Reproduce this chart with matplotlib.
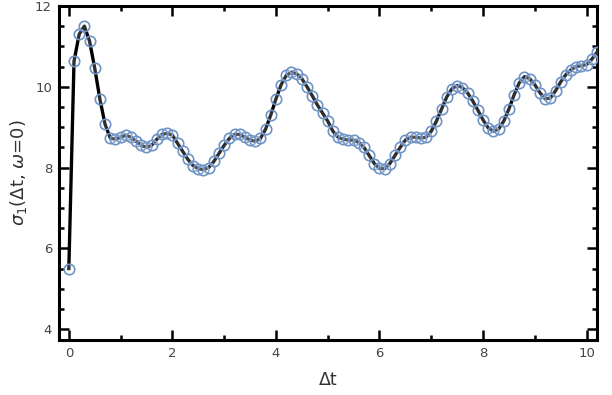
import numpy as np
import matplotlib
matplotlib.use("Agg")
import matplotlib.pyplot as plt
from matplotlib.ticker import MultipleLocator

# data: sigma_1 vs delta t (step 0.1)
dt = [round(0.1 * i, 1) for i in range(103)]
sigma = [5.50, 10.63, 11.30, 11.50, 11.13, 10.46, 9.69, 9.07, 8.73, 8.70,
         8.75, 8.80, 8.75, 8.65, 8.55, 8.50, 8.55, 8.70, 8.82, 8.85,
         8.80, 8.60, 8.40, 8.20, 8.05, 7.97, 7.95, 8.00, 8.15, 8.35,
         8.55, 8.72, 8.82, 8.82, 8.75, 8.68, 8.65, 8.72, 8.95, 9.30,
         9.70, 10.05, 10.28, 10.36, 10.32, 10.20, 10.00, 9.78, 9.55, 9.35,
         9.15, 8.90, 8.75, 8.70, 8.68, 8.68, 8.62, 8.50, 8.30, 8.10,
         7.98, 7.97, 8.10, 8.30, 8.50, 8.68, 8.75, 8.75, 8.73, 8.75,
         8.90, 9.15, 9.45, 9.75, 9.95, 10.03, 9.98, 9.85, 9.65, 9.42,
         9.18, 8.98, 8.90, 8.95, 9.15, 9.45, 9.80, 10.10, 10.25, 10.20,
         10.05, 9.85, 9.70, 9.72, 9.90, 10.12, 10.30, 10.42, 10.50, 10.52,
         10.55, 10.68, 10.85]

x_ticks = [0, 2, 4, 6, 8, 10]
y_ticks = [4, 6, 8, 10, 12]

fig = plt.figure(figsize=(6.12, 3.95), dpi=100)
ax = fig.add_axes([0.0964, 0.139, 0.879, 0.846])

ax.plot(dt, sigma, color='black', lw=2.4, zorder=2)
ax.plot(dt, sigma, linestyle='none', marker='o', markersize=7.5,
        markerfacecolor=(1, 1, 1, 0.18), markeredgecolor='#6f93c6',
        markeredgewidth=1.2, zorder=3)

ax.set_xlim(-0.19, 10.2)
ax.set_ylim(3.73, 12.0)
ax.set_xticks(x_ticks)
ax.set_yticks(y_ticks)
ax.xaxis.set_minor_locator(MultipleLocator(1))
ax.yaxis.set_minor_locator(MultipleLocator(0.5))

for s in ax.spines.values():
    s.set_linewidth(2.2)
ax.tick_params(which='both', direction='in', top=True, right=True,
               labelsize=9.5, labelcolor='#444444', width=1.8)
ax.tick_params(which='major', length=7, pad=5)
ax.tick_params(which='minor', length=3.5)

ax.set_xlabel('Δt', fontsize=12.5, color='#333333', labelpad=8)
ax.set_ylabel(r'$\sigma_1$(Δt, $\omega$=0)', fontsize=13, color='#333333', labelpad=4)

fig.savefig('out.png', dpi=100)
